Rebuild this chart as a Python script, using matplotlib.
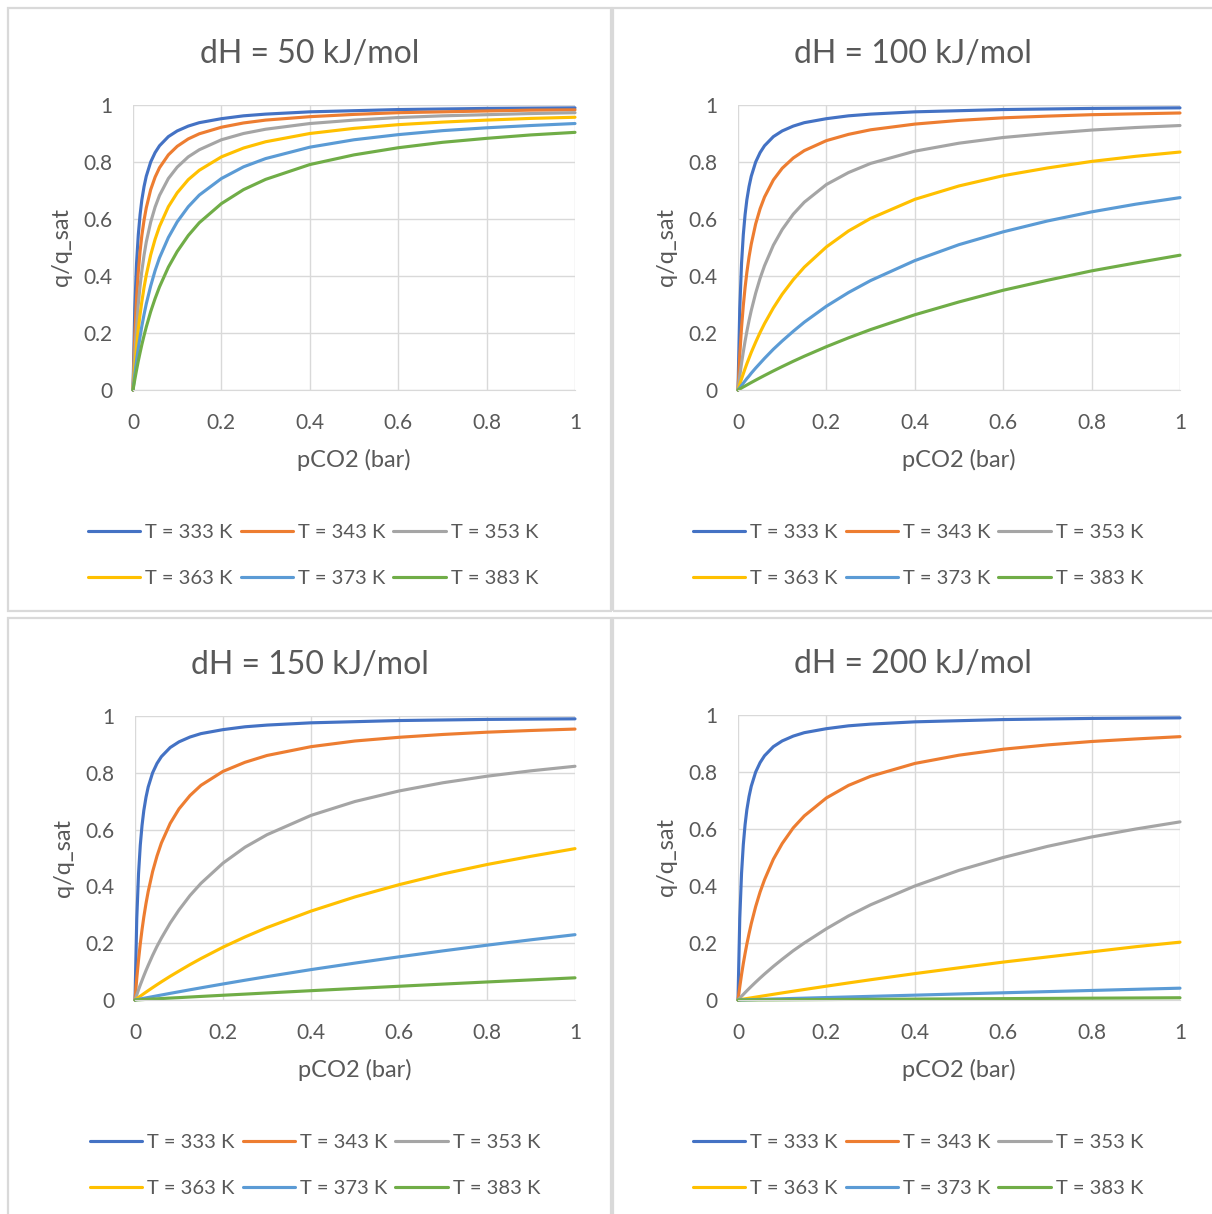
import matplotlib
matplotlib.use("Agg")
import matplotlib.pyplot as plt
from matplotlib.patches import Rectangle
from matplotlib.ticker import FuncFormatter

plt.rcParams['font.family'] = ['Lato', 'DejaVu Sans']

# pressure grid (bar)
P_CO2 = [0, 0.004, 0.008, 0.012, 0.016, 0.02, 0.025, 0.03, 0.04, 0.05, 0.06, 0.08, 0.1,
         0.125, 0.15, 0.2, 0.25, 0.3, 0.4, 0.5, 0.6, 0.7, 0.8, 0.9, 1.0]

TEMPS = ["T = 333 K", "T = 343 K", "T = 353 K", "T = 363 K", "T = 373 K", "T = 383 K"]
COLORS = ["#4472C4", "#ED7D31", "#A5A5A5", "#FFC000", "#5B9BD5", "#70AD47"]
TITLES = ["dH = 50 kJ/mol", "dH = 100 kJ/mol", "dH = 150 kJ/mol", "dH = 200 kJ/mol"]

# q/q_sat, one list per temperature
Q_333 = [0, 0.286, 0.444, 0.545, 0.615, 0.667, 0.714, 0.750, 0.800, 0.833, 0.857, 0.889, 0.909,
         0.926, 0.938, 0.952, 0.962, 0.968, 0.976, 0.980, 0.984, 0.986, 0.988, 0.989, 0.990]

DH50 = [
    Q_333,
    [0, 0.191, 0.321, 0.415, 0.486, 0.542, 0.596, 0.639, 0.703, 0.747, 0.780, 0.825, 0.855,
     0.881, 0.899, 0.922, 0.937, 0.947, 0.959, 0.967, 0.973, 0.976, 0.979, 0.982, 0.983],
    [0, 0.126, 0.223, 0.301, 0.365, 0.418, 0.473, 0.519, 0.589, 0.642, 0.683, 0.742, 0.782,
     0.818, 0.843, 0.878, 0.900, 0.915, 0.935, 0.947, 0.956, 0.962, 0.966, 0.970, 0.973],
    [0, 0.083, 0.153, 0.213, 0.265, 0.310, 0.360, 0.403, 0.474, 0.529, 0.574, 0.643, 0.692,
     0.738, 0.771, 0.818, 0.849, 0.871, 0.900, 0.918, 0.931, 0.940, 0.947, 0.953, 0.957],
    [0, 0.054, 0.103, 0.147, 0.187, 0.224, 0.265, 0.302, 0.365, 0.419, 0.464, 0.535, 0.590,
     0.643, 0.684, 0.742, 0.783, 0.812, 0.852, 0.878, 0.896, 0.910, 0.920, 0.928, 0.935],
    [0, 0.036, 0.070, 0.102, 0.131, 0.159, 0.191, 0.221, 0.275, 0.321, 0.362, 0.431, 0.486,
     0.542, 0.587, 0.654, 0.703, 0.739, 0.791, 0.825, 0.850, 0.869, 0.883, 0.895, 0.904],
]
DH100 = [
    Q_333,
    [0, 0.123, 0.219, 0.296, 0.359, 0.412, 0.467, 0.512, 0.583, 0.636, 0.677, 0.737, 0.778,
     0.814, 0.840, 0.875, 0.897, 0.913, 0.933, 0.946, 0.955, 0.961, 0.966, 0.969, 0.972],
    [0, 0.049, 0.094, 0.134, 0.171, 0.205, 0.244, 0.279, 0.340, 0.392, 0.436, 0.508, 0.563,
     0.617, 0.659, 0.721, 0.763, 0.795, 0.838, 0.866, 0.886, 0.900, 0.912, 0.921, 0.928],
    [0, 0.020, 0.039, 0.057, 0.075, 0.092, 0.112, 0.132, 0.168, 0.202, 0.233, 0.288, 0.336,
     0.387, 0.431, 0.502, 0.558, 0.602, 0.669, 0.716, 0.752, 0.779, 0.802, 0.820, 0.835],
    [0, 0.008, 0.016, 0.024, 0.032, 0.040, 0.049, 0.059, 0.077, 0.094, 0.111, 0.143, 0.172,
     0.206, 0.238, 0.294, 0.342, 0.384, 0.454, 0.510, 0.555, 0.593, 0.625, 0.652, 0.675],
    [0, 0.0036, 0.0071, 0.0107, 0.0141, 0.0176, 0.0219, 0.0262, 0.0346, 0.0429, 0.0510, 0.0669, 0.0822,
     0.1008, 0.1185, 0.152, 0.183, 0.212, 0.264, 0.309, 0.350, 0.385, 0.418, 0.446, 0.473],
]
DH150 = [
    Q_333,
    [0, 0.076, 0.141, 0.198, 0.248, 0.292, 0.340, 0.382, 0.452, 0.507, 0.553, 0.622, 0.673,
     0.720, 0.756, 0.805, 0.837, 0.861, 0.892, 0.912, 0.925, 0.935, 0.943, 0.949, 0.954],
    [0, 0.018, 0.036, 0.053, 0.069, 0.085, 0.104, 0.122, 0.157, 0.189, 0.218, 0.271, 0.317,
     0.368, 0.411, 0.482, 0.538, 0.582, 0.650, 0.699, 0.736, 0.765, 0.788, 0.807, 0.823],
    [0, 0.0045, 0.0090, 0.0135, 0.0179, 0.0223, 0.0277, 0.0331, 0.0436, 0.0539, 0.0640, 0.0836, 0.102,
     0.1247, 0.146, 0.186, 0.222, 0.255, 0.313, 0.363, 0.406, 0.444, 0.477, 0.506, 0.533],
    [0, 0.0012, 0.0024, 0.0036, 0.0048, 0.0060, 0.0074, 0.0089, 0.0118, 0.0147, 0.0176, 0.0234, 0.0290,
     0.0360, 0.0429, 0.0564, 0.0696, 0.0823, 0.107, 0.130, 0.152, 0.173, 0.193, 0.212, 0.230],
    [0, 0.0003, 0.0007, 0.0010, 0.0014, 0.0017, 0.0021, 0.0025, 0.0034, 0.0042, 0.0051, 0.0068, 0.0084,
     0.0105, 0.0126, 0.0167, 0.0207, 0.0248, 0.0328, 0.0406, 0.0484, 0.0560, 0.0635, 0.0708, 0.0781],
]
DH200 = [
    Q_333,
    [0, 0.046, 0.089, 0.128, 0.163, 0.196, 0.233, 0.268, 0.328, 0.379, 0.422, 0.494, 0.549,
     0.604, 0.646, 0.709, 0.753, 0.785, 0.830, 0.859, 0.880, 0.895, 0.907, 0.916, 0.924],
    [0, 0.0066, 0.0132, 0.0196, 0.0260, 0.0323, 0.0401, 0.0477, 0.0626, 0.0771, 0.0911, 0.1179, 0.143,
     0.173, 0.200, 0.250, 0.295, 0.334, 0.400, 0.455, 0.500, 0.539, 0.572, 0.600, 0.625],
    [0, 0.0010, 0.0020, 0.0031, 0.0041, 0.0051, 0.0064, 0.0076, 0.0101, 0.0126, 0.0151, 0.0200, 0.0249,
     0.0309, 0.0368, 0.0485, 0.0599, 0.0711, 0.0926, 0.113, 0.133, 0.151, 0.169, 0.187, 0.203],
    [0, 0.0002, 0.0003, 0.0005, 0.0007, 0.0009, 0.0011, 0.0013, 0.0017, 0.0022, 0.0026, 0.0035, 0.0043,
     0.0054, 0.0065, 0.0086, 0.0107, 0.0128, 0.0170, 0.0212, 0.0253, 0.0294, 0.0335, 0.0375, 0.0415],
    [0, 0.0000, 0.0001, 0.0001, 0.0001, 0.0002, 0.0002, 0.0002, 0.0003, 0.0004, 0.0005, 0.0006, 0.0008,
     0.0010, 0.0012, 0.0016, 0.0020, 0.0024, 0.0032, 0.0040, 0.0048, 0.0056, 0.0064, 0.0071, 0.0079],
]
PANELS = [DH50, DH100, DH150, DH200]

W, H = 1212, 1214
TEXT = "#595959"
GRID = "#D9D9D9"

# pixel boxes: frame (x0, y0, x1, y1), plot area (x0, y_top, x1, y_bottom)
FRAMES = [(8, 8, 611, 611), (613, 8, 1216, 611), (8, 618, 611, 1218), (613, 618, 1216, 1218)]
PLOTS = [(133, 105, 575, 390), (738, 105, 1180, 390), (135, 716, 575, 1000), (738, 715, 1180, 1000)]

# row-wise legend order (matplotlib fills columns first)
LEG_ORDER = [0, 3, 1, 4, 2, 5]


def fmt(v, _):
    return f"{v:g}"


fig = plt.figure(figsize=(W / 100, H / 100), dpi=100)

for frame in FRAMES:
    x0, y0, x1, y1 = frame
    fig.patches.append(Rectangle((x0 / W, 1 - y1 / H), (x1 - x0) / W, (y1 - y0) / H,
                                 transform=fig.transFigure, fill=False,
                                 edgecolor=GRID, lw=1.6))

for data, title, frame, box in zip(PANELS, TITLES, FRAMES, PLOTS):
    x0, yt, x1, yb = box
    pw, ph = x1 - x0, yb - yt
    ax = fig.add_axes([x0 / W, 1 - yb / H, pw / W, ph / H])
    for series, name, col in zip(data, TEMPS, COLORS):
        ax.plot(P_CO2, series, color=col, lw=2.25, label=name,
                solid_capstyle='round', solid_joinstyle='round', clip_on=False)
    ax.set_xlim(0, 1)
    ax.set_ylim(0, 1)
    ax.set_xticks([0, 0.2, 0.4, 0.6, 0.8, 1])
    ax.set_yticks([0, 0.2, 0.4, 0.6, 0.8, 1])
    ax.xaxis.set_major_formatter(FuncFormatter(fmt))
    ax.yaxis.set_major_formatter(FuncFormatter(fmt))
    ax.grid(True, color=GRID, lw=1.0)
    ax.set_axisbelow(True)
    for s in ax.spines.values():
        s.set_visible(False)
    ax.spines['bottom'].set_visible(True)
    ax.spines['bottom'].set_color(GRID)
    ax.tick_params(length=0, labelsize=15, colors=TEXT, pad=15)
    ax.tick_params(axis='x', pad=16.5)
    ax.set_xlabel("pCO2 (bar)", fontsize=17, color=TEXT)
    ax.set_ylabel("q/q_sat", fontsize=17, color=TEXT)
    ax.xaxis.set_label_coords(0.5, -59 / ph)
    ax.yaxis.set_label_coords(-61 / pw, 0.5)

    cx = (frame[0] + min(frame[2], W)) / 2 / W
    fig.text(cx, 1 - (yt - 42) / H, title, ha='center', va='baseline',
             fontsize=23, color=TEXT)

    handles, labels = ax.get_legend_handles_labels()
    fig.legend([handles[i] for i in LEG_ORDER], [labels[i] for i in LEG_ORDER],
               loc='center', ncol=3,
               bbox_to_anchor=((x0 - 133 + 313) / W, 1 - (yb + 165.5) / H),
               bbox_transform=fig.transFigure, frameon=False,
               fontsize=14.5, labelcolor=TEXT, handlelength=2.6,
               handletextpad=0.25, columnspacing=0.4, labelspacing=1.42)

fig.savefig("out.png", dpi=100)
